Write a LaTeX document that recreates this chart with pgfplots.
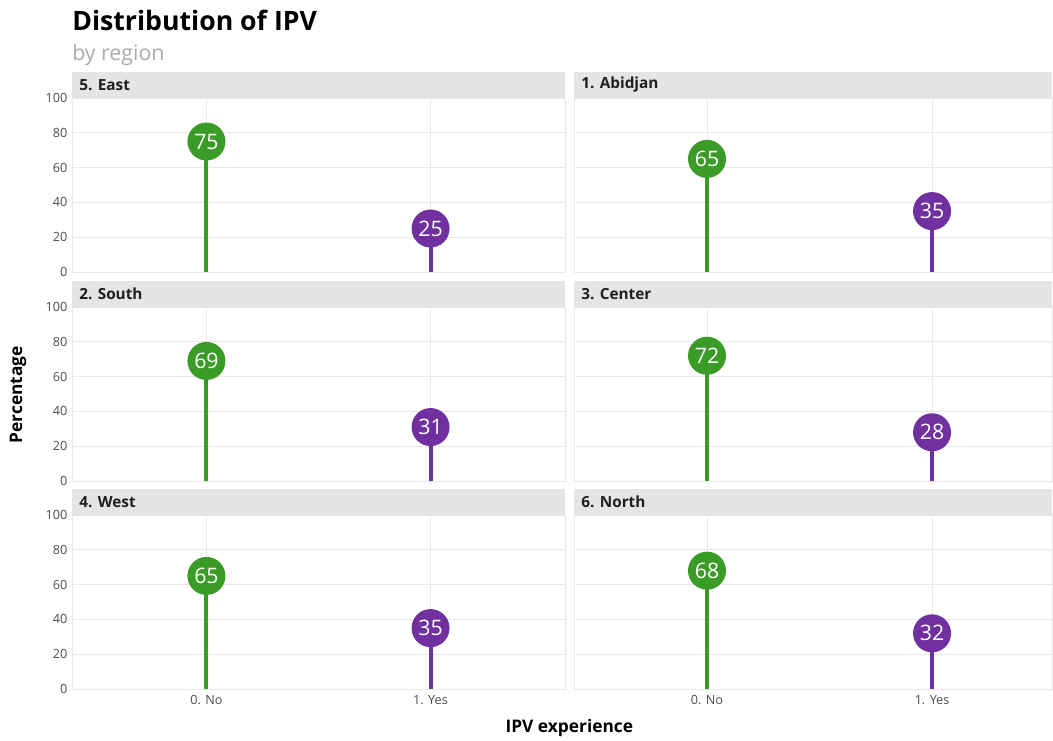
\documentclass[border=0pt]{standalone}
\usepackage{pgfplots}
\pgfplotsset{compat=1.18}
\usepackage{fontspec}
\setmainfont{Open Sans}
\definecolor{nocol}{RGB}{58,155,38}
\definecolor{yescol}{RGB}{112,48,160}
\definecolor{stripcol}{RGB}{229,229,229}
\definecolor{gridcol}{RGB}{232,232,232}
\definecolor{tickcol}{RGB}{77,77,77}
\definecolor{subcol}{RGB}{170,170,170}

\pgfplotsset{
  panel/.style={
    scale only axis,
    height=130.5pt,
    ymin=0, ymax=100,
    ytick={0,20,40,60,80,100},
    xtick={1,2},
    xticklabels={0. No,1. Yes},
    grid=major,
    major grid style={draw=gridcol, line width=0.75pt},
    axis line style={draw=gridcol, line width=0.75pt},
    tick style={draw=none},
    ticklabel style={font=\fontsize{9.5}{11}\selectfont, text=tickcol},
    xticklabel style={yshift=-1.5pt},
    /pgf/number format/assume math mode=true,
    clip=false,
    nodes near coords,
    nodes near coords style={anchor=center, text=white, font=\fontsize{16}{18}\selectfont},
    anchor=south west,
  },
  leftpanel/.style={panel, width=369.75pt, xmin=0.4, xmax=2.6},
  rightpanel/.style={panel, width=358.5pt, xmin=0.409, xmax=2.533, yticklabels={}},
  nox/.style={xticklabels={}},
  nostem/.style={ycomb, line width=3pt, color=nocol, mark=*, mark size=12.75pt, mark options={fill=nocol, draw=nocol}},
  yesstem/.style={ycomb, line width=3pt, color=yescol, mark=*, mark size=12.75pt, mark options={fill=yescol, draw=yescol}},
}

\newcommand{\strip}[2]{%
  \fill[stripcol] (#1.north west) rectangle ([yshift=19.5pt]#1.north east);
  \node[anchor=west, font=\fontsize{11.5}{13}\selectfont\bfseries, text=black!88]
    at ([xshift=2pt, yshift=9.75pt]#1.north west) {#2};
}

\begin{document}
\begin{tikzpicture}
\useasboundingbox (0,0) rectangle (789.75pt,-555pt);

% row 1
\begin{axis}[leftpanel, nox, name=p1, at={(54pt,-204pt)}]
\addplot[nostem] coordinates {(1,75)};
\addplot[yesstem] coordinates {(2,25)};
\end{axis}
\begin{axis}[rightpanel, nox, name=p2, at={(430.5pt,-204pt)}]
\addplot[nostem] coordinates {(1,65)};
\addplot[yesstem] coordinates {(2,35)};
\end{axis}

% row 2
\begin{axis}[leftpanel, nox, name=p3, at={(54pt,-360.75pt)}]
\addplot[nostem] coordinates {(1,69)};
\addplot[yesstem] coordinates {(2,31)};
\end{axis}
\begin{axis}[rightpanel, nox, name=p4, at={(430.5pt,-360.75pt)}]
\addplot[nostem] coordinates {(1,72)};
\addplot[yesstem] coordinates {(2,28)};
\end{axis}

% row 3
\begin{axis}[leftpanel, name=p5, at={(54pt,-516.75pt)}]
\addplot[nostem] coordinates {(1,65)};
\addplot[yesstem] coordinates {(2,35)};
\end{axis}
\begin{axis}[rightpanel, name=p6, at={(430.5pt,-516.75pt)}, xticklabels={0. No,1. Yes}]
\addplot[nostem] coordinates {(1,68)};
\addplot[yesstem] coordinates {(2,32)};
\end{axis}

\strip{p1}{5. East}
\strip{p2}{1. Abidjan}
\strip{p3}{2. South}
\strip{p4}{3. Center}
\strip{p5}{4. West}
\strip{p6}{6. North}

% titles
\node[anchor=base west, inner sep=0pt, font=\fontsize{20}{24}\selectfont\bfseries] at (54pt,-22.5pt) {Distribution of IPV};
\node[anchor=base west, inner sep=0pt, font=\fontsize{16}{19}\selectfont, text=subcol] at (54pt,-45pt) {by region};
\node[rotate=90, font=\fontsize{13}{15}\selectfont\bfseries] at (13.5pt,-296pt) {Percentage};
\node[font=\fontsize{13}{15}\selectfont\bfseries] at (427pt,-546pt) {IPV experience};
\end{tikzpicture}
\end{document}
